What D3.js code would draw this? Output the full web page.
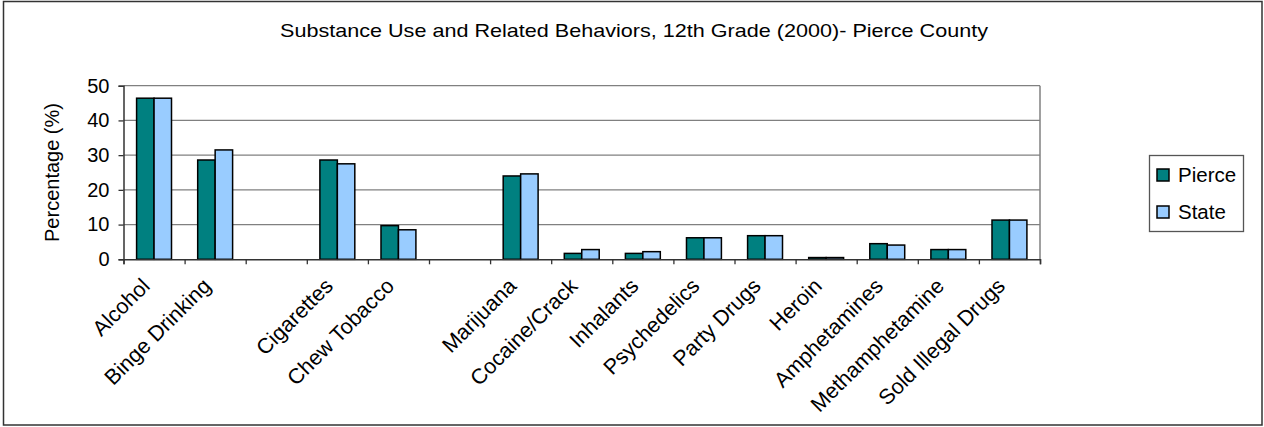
<!DOCTYPE html>
<html><head><meta charset="utf-8">
<script src="https://cdn.jsdelivr.net/npm/d3@7"></script>
<style>
html,body{margin:0;padding:0;background:#fff;}
svg text{font-family:"Liberation Sans",Arial,sans-serif;fill:#000;}
</style></head>
<body><svg id="c" width="1264" height="427"></svg>
<script>
const title = "Substance Use and Related Behaviors, 12th Grade (2000)- Pierce County";
const categories = ["Alcohol","Binge Drinking","","Cigarettes","Chew Tobacco","","Marijuana","Cocaine/Crack","Inhalants","Psychedelics","Party Drugs","Heroin","Amphetamines","Methamphetamine","Sold Illegal Drugs"];
const pierce = [46.4,28.6,null,28.6,9.7,null,24.0,1.7,1.7,6.2,6.8,0.5,4.5,2.8,11.3];
const state  = [46.4,31.5,null,27.5,8.5,null,24.6,2.8,2.2,6.2,6.8,0.5,4.1,2.8,11.3];
const seriesNames = ["Pierce","State"];
const seriesColors = ["#008080","#99CCFF"];
const yTicks = [0,10,20,30,40,50];
const yTitle = "Percentage (%)";

const svg = d3.select("#c");
svg.append("rect").attr("x",3.5).attr("y",1.5).attr("width",1258.5).attr("height",423.5)
  .attr("fill","#fff").attr("stroke","#333").attr("stroke-width",1.5);

const L=123.5, R=1040, T=85.7, B=259.3;
const x = d3.scaleBand().domain(d3.range(categories.length)).range([L,R]).paddingInner(0).paddingOuter(0);
const y = d3.scaleLinear().domain([0,50]).range([B,T]);
const bw = x.bandwidth()/3.5;

// gridlines
svg.append("g").selectAll("line").data(yTicks.filter(d=>d>0)).join("line")
  .attr("x1",L).attr("x2",R).attr("y1",d=>y(d)).attr("y2",d=>y(d))
  .attr("stroke","#808080").attr("stroke-width",1.3);
svg.append("line").attr("x1",R).attr("x2",R).attr("y1",T).attr("y2",B).attr("stroke","#808080").attr("stroke-width",1.5);

// bars
const series=[pierce,state];
series.forEach((vals,si)=>{
  svg.append("g").selectAll("rect").data(vals.map((v,i)=>({v,i})).filter(d=>d.v!=null)).join("rect")
    .attr("x",d=>x(d.i)+x.bandwidth()/2-bw+si*bw).attr("width",bw)
    .attr("y",d=>y(d.v)).attr("height",d=>y(0)-y(d.v))
    .attr("fill",seriesColors[si]).attr("stroke","#000").attr("stroke-width",1.5);
});

// y axis
const ya = svg.append("g").attr("transform",`translate(${L},0)`)
  .call(d3.axisLeft(y).tickValues(yTicks).tickSize(5).tickPadding(9));
ya.select(".domain").attr("stroke","#333").attr("stroke-width",1.5);
ya.selectAll(".tick line").attr("stroke","#333").attr("stroke-width",1.3);
ya.selectAll("text").attr("font-size","20px").attr("font-family","Liberation Sans, Arial").attr("fill","#000");

// x axis (boundary ticks)
const xb = d3.scaleLinear().domain([0,categories.length]).range([L,R]);
const xa = svg.append("g").attr("transform",`translate(0,${B})`)
  .call(d3.axisBottom(xb).tickValues(d3.range(categories.length+1)).tickSize(5).tickFormat(""));
xa.select(".domain").attr("stroke","#333").attr("stroke-width",1.5);
xa.selectAll(".tick line").attr("stroke","#333").attr("stroke-width",1.3);

svg.append("g").selectAll("text").data(categories.map((c,i)=>({c,i})).filter(d=>d.c)).join("text")
  .attr("transform",d=>`translate(${x(d.i)+x.bandwidth()/2-3},${B+28}) rotate(-45)`)
  .attr("text-anchor","end").attr("font-size","21.5px").text(d=>d.c);

// y title
svg.append("text").attr("transform",`translate(59,${(T+B)/2}) rotate(-90)`)
  .attr("text-anchor","middle").attr("font-size","20px").text(yTitle);

// title
svg.append("text").attr("x",634).attr("y",37).attr("text-anchor","middle").attr("font-size","19px")
  .attr("textLength",708).attr("lengthAdjust","spacingAndGlyphs").text(title);

// legend
const lg = svg.append("g");
lg.append("rect").attr("x",1149.5).attr("y",155.5).attr("width",94).attr("height",76)
  .attr("fill","#fff").attr("stroke","#555").attr("stroke-width",1.3);
seriesNames.forEach((n,i)=>{
  const cy = 175 + i*37;
  lg.append("rect").attr("x",1157).attr("y",cy-6).attr("width",12).attr("height",12)
    .attr("fill",seriesColors[i]).attr("stroke","#000").attr("stroke-width",1.5);
  lg.append("text").attr("x",1178).attr("y",cy+7).attr("font-size","20.5px").text(n);
});
</script></body></html>
